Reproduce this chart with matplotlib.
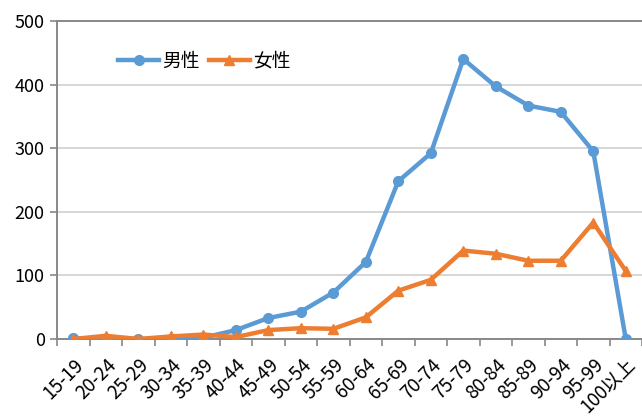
import numpy as np
import matplotlib.pyplot as plt

plt.rcParams['font.family'] = ['Noto Sans CJK JP', 'DejaVu Sans']

ages = ['15-19', '20-24', '25-29', '30-34', '35-39', '40-44', '45-49', '50-54',
        '55-59', '60-64', '65-69', '70-74', '75-79', '80-84', '85-89', '90-94',
        '95-99', '100以上']
male = [1, 0, 0, 0, 2, 14, 33, 43, 73, 121, 248, 292, 440, 397, 367, 357, 295, 0]
female = [0, 5, 0, 4, 7, 3, 14, 17, 16, 34, 76, 93, 139, 134, 123, 123, 183, 107]

fig = plt.figure(figsize=(6.42, 4.18), dpi=100)
ax = fig.add_axes([0.089, 0.189, 0.911, 0.761])

x = np.arange(len(ages))
ax.plot(x, male, '-o', color='#5B9BD5', linewidth=3.2, markersize=7, label='男性', zorder=3)
ax.plot(x, female, '-^', color='#ED7D31', linewidth=3.2, markersize=7.5, label='女性', zorder=4)

ax.set_xlim(-0.5, len(ages) - 0.5)
ax.set_ylim(0, 500)
ax.set_yticks(np.arange(0, 501, 100))
ax.grid(axis='y', color='#D0D0D0', linewidth=1.2)
ax.set_axisbelow(True)

ax.set_xticks(x)
ax.set_xticklabels(ages, rotation=45, ha='right', va='top', rotation_mode='anchor', fontsize=13.5)
ax.set_xticks(np.arange(-0.5, len(ages), 1), minor=True)
ax.tick_params(axis='x', which='major', length=0, pad=11)
ax.tick_params(axis='x', which='minor', length=5, color='#888888', width=1.2)
ax.tick_params(axis='y', length=5, color='#888888', width=1.2, labelsize=13, pad=4)

for s in ['left', 'bottom', 'top']:
    ax.spines[s].set_color('#888888')
    ax.spines[s].set_linewidth(1.4)
ax.spines['right'].set_visible(False)

ax.legend(loc='upper left', bbox_to_anchor=(0.075, 0.96), ncol=2, frameon=False,
          fontsize=13.5, handlelength=2.2, columnspacing=0.5, handletextpad=0.15)

fig.savefig('out.png', dpi=100)
